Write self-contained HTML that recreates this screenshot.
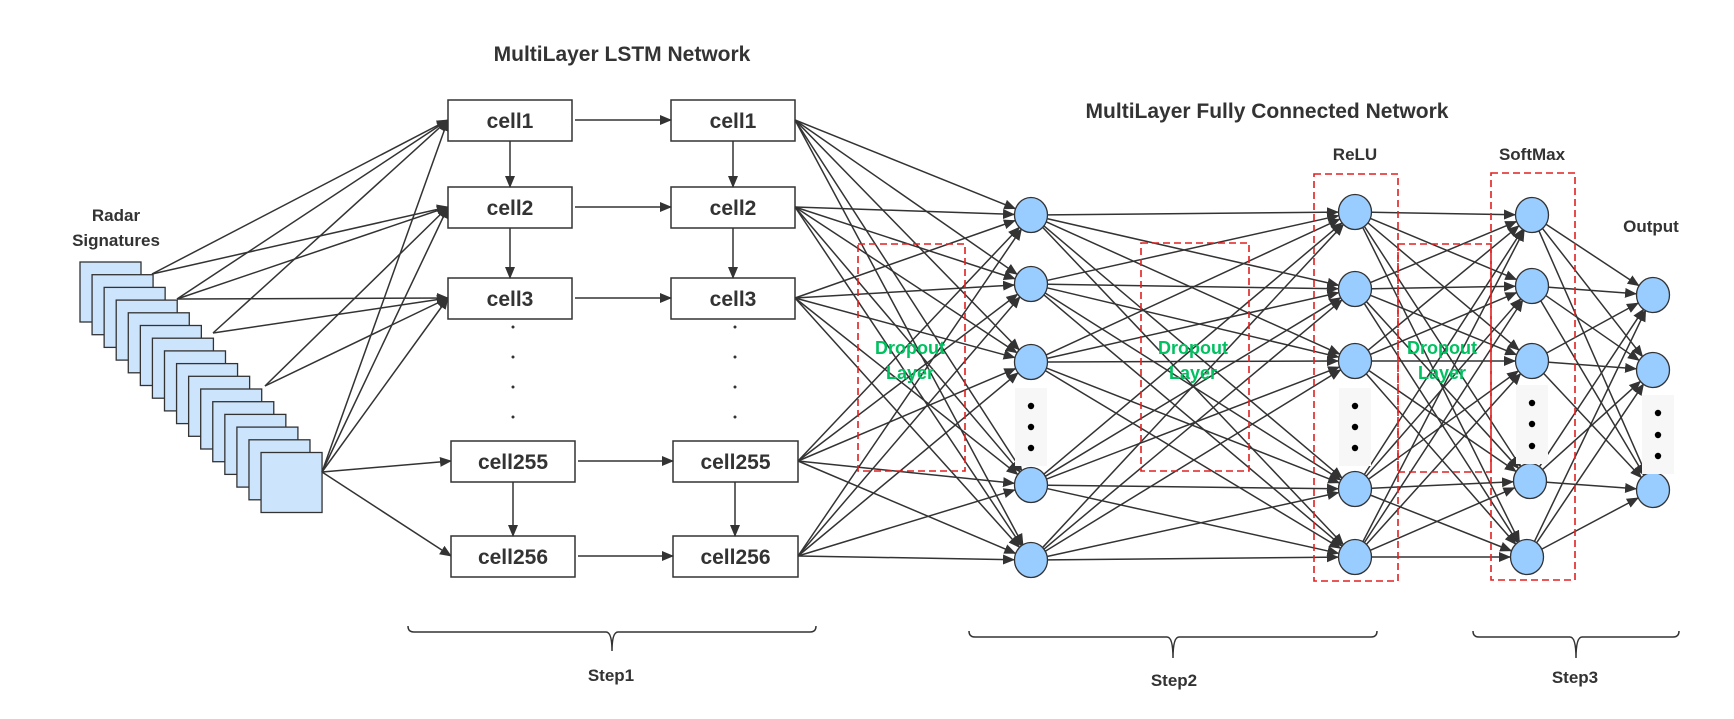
<!DOCTYPE html>
<html><head><meta charset="utf-8"><style>
html,body{margin:0;padding:0;background:#fff;}
svg{display:block;}
text{font-family:"Liberation Sans",sans-serif;font-weight:bold;}
</style></head><body>
<svg id="s" width="1734" height="719" viewBox="0 0 1734 719" xmlns="http://www.w3.org/2000/svg">
<defs>
<marker id="a" markerWidth="12" markerHeight="10" refX="11" refY="5" orient="auto" markerUnits="userSpaceOnUse">
<path d="M0,0 L12,5 L0,10 z" fill="#333"/></marker>
</defs>
<g id="g"></g>
</svg>
<script>
const g=document.getElementById('g');const NS='http://www.w3.org/2000/svg';
function el(t,a,txt){const e=document.createElementNS(NS,t);for(const k in a)e.setAttribute(k,a[k]);if(txt!==undefined)e.textContent=txt;g.appendChild(e);return e;}
function ln(x1,y1,x2,y2,arr=true){el('line',{x1,y1,x2,y2,stroke:'#333','stroke-width':1.5,'marker-end':arr?'url(#a)':''});}
function tx(x,y,s,size,fill){el('text',{x,y,'text-anchor':'middle','font-size':size,style:'fill:'+(fill||'#333')},s);}
tx(622,61,'MultiLayer LSTM Network',21);
tx(1267,118,'MultiLayer Fully Connected Network',21);
tx(116,221,'Radar',17);tx(116,246,'Signatures',17);
for(let i=0;i<16;i++){el('rect',{x:80+i*12.07,y:262+i*12.7,width:61,height:60,fill:'#cce4fc',stroke:'#333','stroke-width':1.3});}
const rows=[120,207,298,461,556];const names=['cell1','cell2','cell3','cell255','cell256'];
const c1=[[448,572],[448,572],[448,572],[451,575],[451,575]];const c2=[[671,795],[671,795],[671,795],[673,798],[673,798]];
const T=i=>[c1[i][0],rows[i]];
const src=[[152,274,[0,1]],[177,299,[0,1,2]],[213,333,[2,0]],[265,386,[2,1]],[322,472,[0,1,2,3,4]]];
src.forEach(s=>s[2].forEach(i=>ln(s[0],s[1],T(i)[0],T(i)[1])));
for(let i=0;i<5;i++){
 [c1,c2].forEach(c=>{el('rect',{x:c[i][0],y:rows[i]-20,width:c[i][1]-c[i][0],height:41,fill:'#fff',stroke:'#333','stroke-width':1.5});tx((c[i][0]+c[i][1])/2,rows[i]+8,names[i],21);});
 ln(c1[i][1]+3,rows[i],c2[i][0],rows[i]);
}
[[0,1],[1,2],[3,4]].forEach(([a,b])=>{ln(510+(a>2?3:0),rows[a]+21,510+(a>2?3:0),rows[b]-20);ln(733+(a>2?2:0),rows[a]+21,733+(a>2?2:0),rows[b]-20);});
[327,357,387,417].forEach(y=>{el('circle',{cx:513,cy:y,r:1.5,fill:'#333'});el('circle',{cx:735,cy:y,r:1.5,fill:'#333'});});
const L1=[[1031,215],[1031,284],[1031,362],[1031,485],[1031,560]];
const L2=[[1355,212],[1355,289],[1355,361],[1355,489],[1355,557]];
const L3=[[1532,215],[1532,286],[1532,361],[1530,481],[1527,557]];
const L4=[[1653,295],[1653,370],[1653,490]];
function conn(A,B,r){A.forEach(p=>B.forEach(q=>{const dx=q[0]-p[0],dy=q[1]-p[1],d=Math.hypot(dx,dy);ln(p[0]+dx/d*r,p[1]+dy/d*r,q[0]-dx/d*r,q[1]-dy/d*r);}));}
rows.forEach((y,i)=>L1.forEach(q=>{const x0=c2[i][1];const dx=q[0]-x0,dy=q[1]-y,d=Math.hypot(dx,dy);ln(x0,y,q[0]-dx/d*17,q[1]-dy/d*17);}));
conn(L1,L2,17);conn(L2,L3,17);conn(L3,L4,17);
function dash(x,y,w,h){el('rect',{x,y,width:w,height:h,fill:'none',stroke:'#e02020','stroke-width':1.6,'stroke-dasharray':'7,4'});}
dash(858,244,107,227);dash(1141,243,108,228);dash(1398,244,93,228);dash(1314,174,84,407);dash(1491,173,84,407);
[[910],[1193],[1442]].forEach(([x])=>{tx(x,354,'Dropout',18,'#00c060');tx(x,379,'Layer',18,'#00c060');});
[L1,L2,L3,L4].forEach(L=>L.forEach(p=>el('ellipse',{cx:p[0],cy:p[1],rx:16.5,ry:17.5,fill:'#99ccff',stroke:'#333','stroke-width':1.3})));
[[1031,[406,427,448]],[1355,[406,427,448]],[1532,[403,424,446]],[1658,[413,435,456]]].forEach(([x,ys])=>{el('rect',{x:x-16,y:ys[0]-18,width:32,height:ys[2]-ys[0]+36,fill:'#f7f7f7'});ys.forEach(y=>el('circle',{cx:x,cy:y,r:3.2,fill:'#000'}));});
tx(1355,160,'ReLU',17);tx(1532,160,'SoftMax',17);tx(1651,232,'Output',17);
function brace(x1,x2,y,h){const m=(x1+x2)/2;el('path',{d:`M${x1},${y} q0,6 6,6 L${m-6},${y+6} q6,0 6,${h} q0,-${h} 6,-${h} L${x2-6},${y+6} q6,0 6,-6`,fill:'none',stroke:'#333','stroke-width':1.5});}
brace(408,816,626,19);brace(969,1377,631,21);brace(1473,1679,631,21);
tx(611,681,'Step1',17);tx(1174,686,'Step2',17);tx(1575,683,'Step3',17);
</script>
</body></html>
